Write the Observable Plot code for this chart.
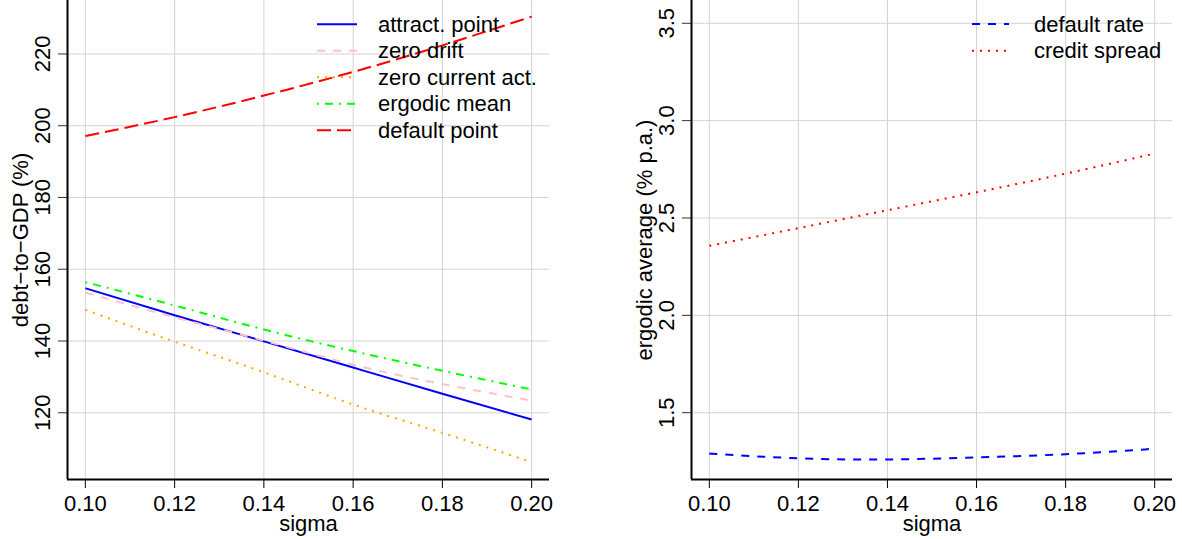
<!DOCTYPE html>
<html>
<head>
<meta charset="utf-8">
<script src="https://cdn.jsdelivr.net/npm/d3@7"></script>
<script src="https://cdn.jsdelivr.net/npm/@observablehq/plot@0.6"></script>
<style>
  html, body { margin: 0; padding: 0; background: #fff; overflow: hidden; }
  #wrap { position: relative; width: 1182px; height: 539px; display: flex; }
  .panel { position: relative; width: 591px; height: 539px; }
  .legend { position: absolute; left: 0; top: 0; pointer-events: none; }
</style>
</head>
<body>
<div id="wrap">
  <div class="panel" id="left"></div>
  <div class="panel" id="right"></div>
</div>
<script>
// ---------- data ----------
const sigma = [0.10, 0.12, 0.14, 0.16, 0.18, 0.20];

// left panel: debt-to-GDP (%)
const attractPoint   = [154.7, 147.2, 139.9, 132.6, 125.3, 118.1];
const zeroDrift      = [153.5, 146.6, 140.1, 133.4, 128.0, 123.4];
const zeroCurrentAct = [148.7, 139.8, 131.3, 122.3, 114.4, 106.2];
const ergodicMean    = [156.4, 149.9, 143.2, 137.2, 131.7, 126.5];
const defaultPoint   = [197.1, 202.4, 208.4, 215.0, 222.4, 230.4];

// right panel: ergodic average (% p.a.)
const defaultRate  = [1.290, 1.266, 1.260, 1.270, 1.287, 1.315];
const creditSpread = [2.357, 2.448, 2.540, 2.632, 2.728, 2.831];

// ticks
const xTicks = [0.10, 0.12, 0.14, 0.16, 0.18, 0.20];
const yTicksLeft = [120, 140, 160, 180, 200, 220];
const yTicksRight = [1.5, 2.0, 2.5, 3.0, 3.5];

// series definitions
const leftNames  = ["attract. point", "zero drift", "zero current act.", "ergodic mean", "default point"];
const leftValues = [attractPoint, zeroDrift, zeroCurrentAct, ergodicMean, defaultPoint];
const leftColors = ["#0000ff", "#ffc0cb", "#ffa500", "#00ff00", "#ff0000"];
const leftDashes = [null, "8,8", "2,6", "2,6,8,6", "14,6"];

const rightNames  = ["default rate", "credit spread"];
const rightValues = [defaultRate, creditSpread];
const rightColors = ["#0000ff", "#ff0000"];
const rightDashes = ["8,8", "2,6"];

// ---------- helpers ----------
const FONT = "'Liberation Sans', Arial, Helvetica, sans-serif";
const GRID = "#d3d3d3";

function makePanel({names, values, colors, dashes, xDomain, yDomain, yTicks, yFmt, yLabel, marginLeft, marginRight}) {
  const marks = [
    Plot.gridX(xTicks, {stroke: GRID, strokeOpacity: 1, strokeWidth: 1}),
    Plot.gridY(yTicks, {stroke: GRID, strokeOpacity: 1, strokeWidth: 1}),
  ];
  names.forEach((name, i) => {
    const rows = sigma.map((s, j) => ({sigma: s, value: values[i][j]}));
    marks.push(Plot.line(rows, {
      x: "sigma", y: "value", curve: "natural",
      stroke: colors[i], strokeWidth: 2,
      strokeDasharray: dashes[i] || undefined, strokeLinecap: "butt"
    }));
  });
  marks.push(
    Plot.axisX(xTicks, {tickSize: 9, tickPadding: 7, fontSize: 22, tickFormat: d3.format(".2f"), label: null, stroke: "#000"}),
    Plot.axisY(yTicks, {tickSize: 9, tickFormat: () => "", label: null, stroke: "#333"}),
    Plot.text(yTicks, {y: d => d, frameAnchor: "left", dx: -25, rotate: -90, text: yFmt, fontSize: 22, fill: "#000", textAnchor: "middle", lineAnchor: "middle"}),
    Plot.ruleY([yDomain[0]], {stroke: "#000", strokeWidth: 2}),
    Plot.ruleX([xDomain[0]], {stroke: "#000", strokeWidth: 2}),
    Plot.text(["sigma"], {frameAnchor: "bottom", dy: 44, text: d => d, fontSize: 22, fill: "#000", textAnchor: "middle", lineAnchor: "middle"}),
    Plot.text([yLabel], {frameAnchor: "left", dx: -47, rotate: -90, text: d => d, fontSize: 22, fill: "#000", textAnchor: "middle", lineAnchor: "middle"})
  );
  return Plot.plot({
    width: 591, height: 539,
    marginLeft, marginRight, marginTop: 0, marginBottom: 60,
    style: {fontFamily: FONT, fontSize: "22px", background: "#fff", color: "#000", overflow: "visible"},
    x: {domain: xDomain, axis: null},
    y: {domain: yDomain, axis: null},
    marks
  });
}

function makeLegend(container, {names, colors, dashes, lineX1, lineX2, textX, rowY0, rowStep}) {
  const ns = "http://www.w3.org/2000/svg";
  const svg = document.createElementNS(ns, "svg");
  svg.setAttribute("width", 591);
  svg.setAttribute("height", 539);
  svg.setAttribute("class", "legend");
  names.forEach((name, i) => {
    const y = rowY0 + i * rowStep;
    const line = document.createElementNS(ns, "line");
    line.setAttribute("x1", lineX1); line.setAttribute("x2", lineX2);
    line.setAttribute("y1", y); line.setAttribute("y2", y);
    line.setAttribute("stroke", colors[i]);
    line.setAttribute("stroke-width", 2);
    if (dashes[i]) line.setAttribute("stroke-dasharray", dashes[i]);
    svg.appendChild(line);
    const t = document.createElementNS(ns, "text");
    t.setAttribute("x", textX); t.setAttribute("y", y);
    t.setAttribute("dominant-baseline", "central");
    t.setAttribute("font-family", FONT);
    t.setAttribute("font-size", 22);
    t.setAttribute("fill", "#000");
    t.textContent = name;
    svg.appendChild(t);
  });
  container.appendChild(svg);
}

// ---------- left ----------
const leftEl = document.getElementById("left");
leftEl.appendChild(makePanel({
  names: leftNames, values: leftValues, colors: leftColors, dashes: leftDashes,
  xDomain: [0.096, 0.204], yDomain: [101.4, 234.9],
  yTicks: yTicksLeft, yFmt: d => d3.format("d")(d),
  yLabel: "debt\u2212to\u2212GDP (%)",
  marginLeft: 67, marginRight: 42
}));
makeLegend(leftEl, {names: leftNames, colors: leftColors, dashes: leftDashes,
  lineX1: 317, lineX2: 357, textX: 378, rowY0: 24.3, rowStep: 26.5});

// ---------- right ----------
const rightEl = document.getElementById("right");
rightEl.appendChild(makePanel({
  names: rightNames, values: rightValues, colors: rightColors, dashes: rightDashes,
  xDomain: [0.096, 0.204], yDomain: [1.157, 3.617],
  yTicks: yTicksRight, yFmt: d => d3.format(".1f")(d),
  yLabel: "ergodic average (% p.a.)",
  marginLeft: 100, marginRight: 10
}));
makeLegend(rightEl, {names: rightNames, colors: rightColors, dashes: rightDashes,
  lineX1: 381, lineX2: 418, textX: 443, rowY0: 24, rowStep: 26.7});
</script>
</body>
</html>
